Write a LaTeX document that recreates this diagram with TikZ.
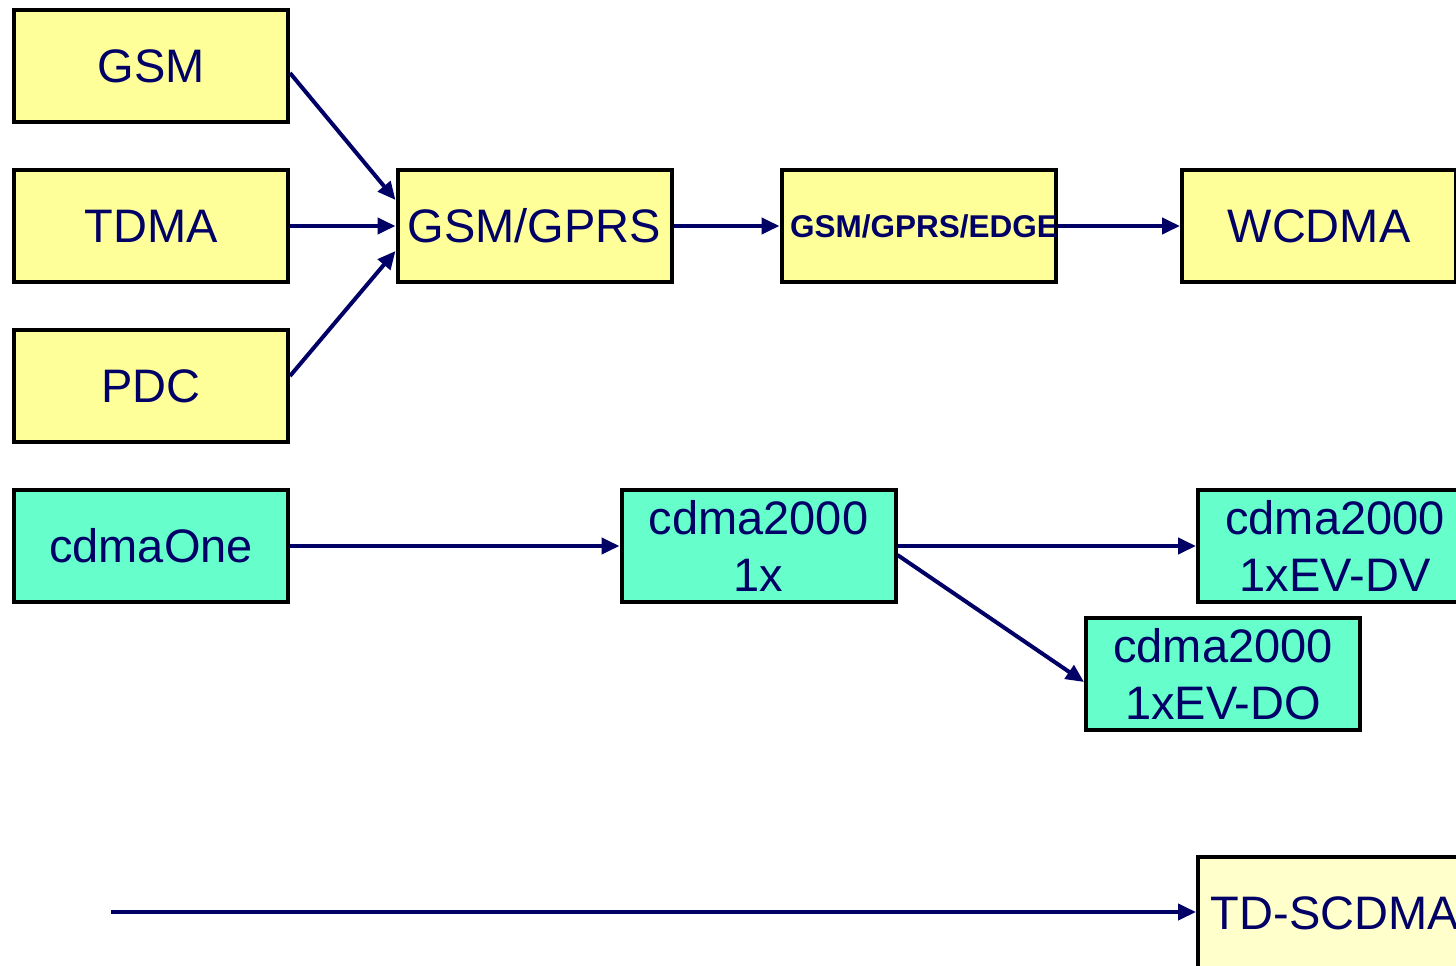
\documentclass[tikz,border=0pt]{standalone}
\usepackage{fontspec}
\setmainfont{Liberation Sans}
\usetikzlibrary{arrows.meta}
\definecolor{navy}{RGB}{0,0,102}
\definecolor{ylw}{RGB}{255,255,153}
\definecolor{ylwlight}{RGB}{255,255,204}
\definecolor{teal2}{RGB}{102,255,204}
\tikzset{
  box/.style={rectangle, draw=black, line width=4pt, minimum width=274pt, minimum height=112pt,
    inner sep=0pt, text=navy, font=\fontsize{47}{57}\selectfont, align=center},
  yb/.style={box, fill=ylw},
  tb/.style={box, fill=teal2},
  conn/.style={draw=navy, line width=4pt, -{Triangle[length=18pt,width=16pt]}}
}
\begin{document}
\begin{tikzpicture}[x=1pt,y=-1pt]
\clip (0,0) rectangle (1456,966);
\fill[white] (0,0) rectangle (1456,966);
% yellow column
\node[yb] (gsm)  at (151,66)  {GSM};
\node[yb] (tdma) at (151,226) {TDMA};
\node[yb] (pdc)  at (151,386) {PDC};
\node[yb] (gprs) at (534.5,226) {GSM/GPRS};
\node[yb, font=\fontsize{31.5}{36}\selectfont\bfseries] (edge) at (918.5,226) {\makebox[0pt]{\hspace*{11pt}GSM/GPRS/EDGE}};
\node[yb] (wcdma) at (1319,226) {WCDMA};
% cdma
\node[tb] (one) at (151,546) {cdmaOne};
\node[tb] (x1) at (758.5,546) {cdma2000\\1x};
\node[tb] (dv) at (1335,546) {cdma2000\\1xEV-DV};
\node[tb] (do) at (1223,674) {cdma2000\\1xEV-DO};
% td-scdma
\node[box, fill=ylwlight] (td) at (1335,913) {TD-SCDMA};
\coordinate (tdstart) at (111,912);
% connectors
\draw[conn] ([yshift=-7pt]gsm.east) -- ([yshift=26pt]gprs.west);
\draw[conn] (tdma.east) -- (gprs.west);
\draw[conn] ([yshift=10pt]pdc.east) -- ([yshift=-25pt]gprs.west);
\draw[conn] (gprs.east) -- (edge.west);
\draw[conn] (edge.east) -- (wcdma.west);
\draw[conn] (one.east) -- (x1.east -| x1.west);
\draw[conn] (x1.east) -- (dv.west);
\draw[conn] ([yshift=-9pt]x1.east) -- ([yshift=-8pt]do.west);
\draw[conn] (tdstart) -- (tdstart -| td.west);
\end{tikzpicture}
\end{document}
